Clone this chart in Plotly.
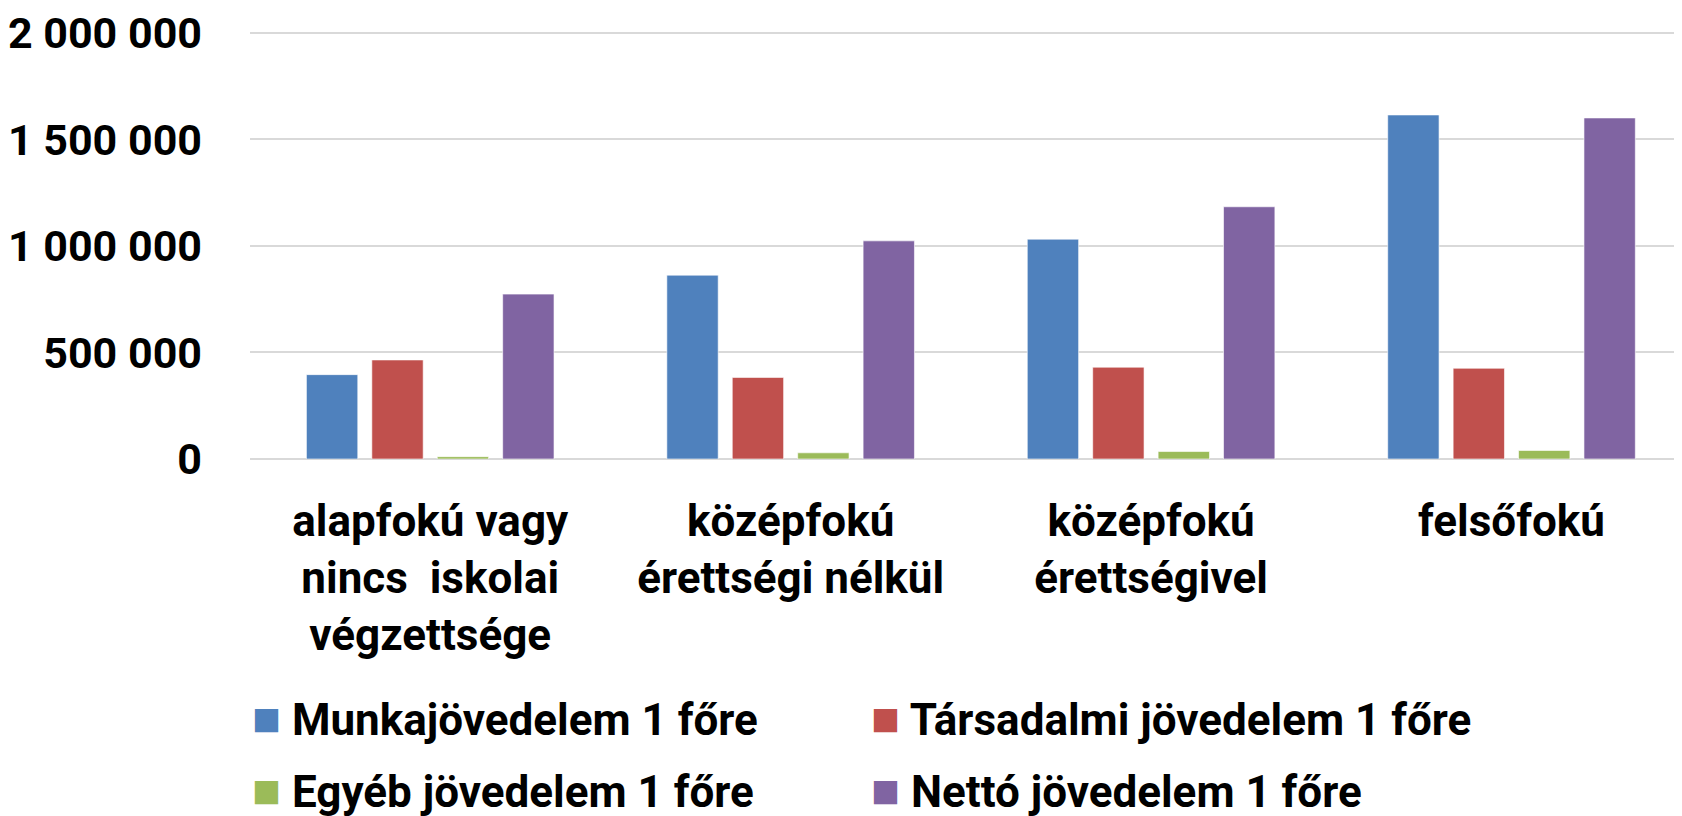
import plotly.graph_objects as go

categories = [
    "alapfokú vagy<br>nincs  iskolai<br>végzettsége",
    "középfokú<br>érettségi nélkül",
    "középfokú<br>érettségivel",
    "felsőfokú",
]
series_names = [
    "Munkajövedelem 1 főre",
    "Társadalmi jövedelem 1 főre",
    "Egyéb jövedelem 1 főre",
    "Nettó jövedelem 1 főre",
]
munka = [396000, 863000, 1032000, 1615000]
tarsadalmi = [465000, 383000, 431000, 426000]
egyeb = [11000, 29000, 35000, 40000]
netto = [774000, 1024000, 1184000, 1601000]
colors = ["#4F81BD", "#C0504D", "#9BBB59", "#8064A2"]
y_ticks = [0, 500000, 1000000, 1500000, 2000000]

FONT = "Roboto"
values = [munka, tarsadalmi, egyeb, netto]

fig = go.Figure()
for name, vals, col in zip(series_names, values, colors):
    fig.add_trace(go.Bar(
        x=categories, y=vals, name=name,
        marker=dict(color=col, line=dict(color="rgba(255,255,255,0.6)", width=1)),
        showlegend=False,
    ))

# legend drawn as text annotations (two columns, two rows)
leg_x = [0.0, 0.432, 0.0, 0.432]
leg_y = [-0.6, -0.6, -0.768, -0.768]
for name, col, lx, ly in zip(series_names, colors, leg_x, leg_y):
    fig.add_annotation(
        xref="paper", yref="paper", x=lx, y=ly, xanchor="left", yanchor="middle",
        showarrow=False,
        text=f'<span style="color:{col};font-size:48px">■</span> {name}',
        font=dict(family=FONT, size=44, color="black", weight="bold"),
    )

fig.update_layout(
    width=1674, height=808,
    margin=dict(l=239, r=0, t=15, b=357),
    paper_bgcolor="white", plot_bgcolor="white",
    barmode="group", bargap=0.274, bargroupgap=0.215,
    separators=", ",
    font=dict(family=FONT, color="black"),
)
fig.update_xaxes(
    range=[-0.5, 3.473],
    showgrid=False, showline=False, ticks="",
    tickfont=dict(family=FONT, size=44, color="black", weight="bold"),
    ticklabelstandoff=32,
)
fig.update_yaxes(
    range=[0, 2000000 * 436 / 430], tickvals=y_ticks, tickformat=",d",
    showgrid=True, gridcolor="#D9D9D9", gridwidth=1.5,
    zeroline=True, zerolinecolor="#D9D9D9", zerolinewidth=1.5,
    showline=False, ticks="",
    tickfont=dict(family=FONT, size=43, color="black", weight="bold"),
    ticklabelstandoff=47, ticklabeloverflow="allow",
)

fig.write_html("out.html")
